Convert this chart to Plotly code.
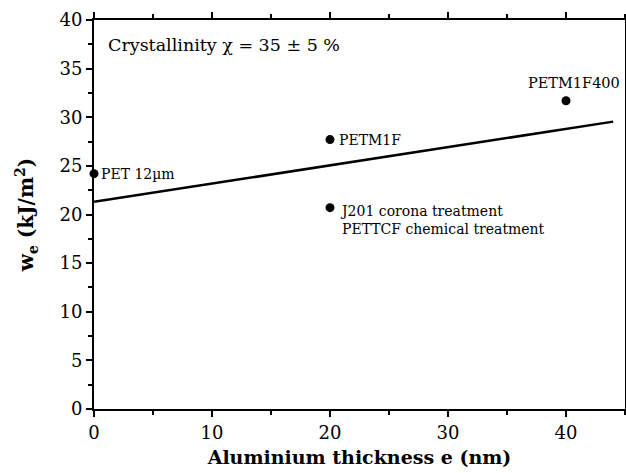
import plotly.graph_objects as go

pt_x = [0, 20, 20, 40]
pt_y = [24.2, 27.7, 20.7, 31.7]
pt_labels = ["PET 12µm", "PETM1F", "J201 corona treatment<br>PETTCF chemical treatment", "PETM1F400"]
fit_x = [0, 44]
fit_y = [21.3, 29.55]

x_ticks = [0, 10, 20, 30, 40]
y_ticks = [0, 5, 10, 15, 20, 25, 30, 35, 40]

font = "DejaVu Serif"

fig = go.Figure()
fig.add_trace(go.Scatter(x=fit_x, y=fit_y, mode="lines",
                         line=dict(color="black", width=2.5), showlegend=False, cliponaxis=False))
fig.add_trace(go.Scatter(x=pt_x, y=pt_y, mode="markers",
                         marker=dict(color="black", size=9), showlegend=False, cliponaxis=False))

# point labels
label_pos = [(0, 24.2, "left", 5, 0), (20, 27.7, "left", 7, 0), (20, 20.7, "left", 8, -1.27),
             (40, 31.7, "center", 8, 1.8)]
for (x, y, anchor, dx, dy), txt in zip(label_pos, pt_labels):
    fig.add_annotation(x=x, y=y + dy, text=txt, showarrow=False, xanchor=anchor,
                       xshift=dx, align="left", yanchor="middle",
                       font=dict(family=font, size=14.5 if anchor == "center" else 14, color="black"))

fig.add_annotation(x=1.0, y=37.4, text="Crystallinity χ = 35 ± 5 %", showarrow=False,
                   xanchor="left", yanchor="middle", font=dict(family=font, size=17.5, color="black"))

axis_common = dict(showline=True, linecolor="black", linewidth=2, mirror="allticks",
                   ticks="outside", ticklen=6, tickwidth=1.5, tickcolor="black",
                   showgrid=False, zeroline=False, automargin=False,
                   tickfont=dict(family=font, size=18, color="black"))

fig.update_xaxes(range=[0, 45], tickvals=x_ticks,
                 minor=dict(tickvals=[5, 15, 25, 35, 45], ticks="outside", ticklen=4, tickcolor="black", tickwidth=1.5),
                 title=dict(text="<b>Aluminium thickness e (nm)</b>", font=dict(family=font, size=19, color="black"), standoff=9),
                 **axis_common)
fig.update_yaxes(range=[0, 40], tickvals=y_ticks,
                 minor=dict(tickvals=[2.5, 7.5, 12.5, 17.5, 22.5, 27.5, 32.5, 37.5], ticks="outside", ticklen=4, tickcolor="black", tickwidth=1.5),
                 title=dict(text="<b>w<sub>e</sub> (kJ/m<sup>2</sup>)</b>", font=dict(family=font, size=20, color="black"), standoff=20),
                 **axis_common)

fig.update_layout(width=626, height=473, margin=dict(l=94, r=1, t=20, b=64),
                  font=dict(family=font),
                  plot_bgcolor="white", paper_bgcolor="white")

fig.write_html("out.html")
